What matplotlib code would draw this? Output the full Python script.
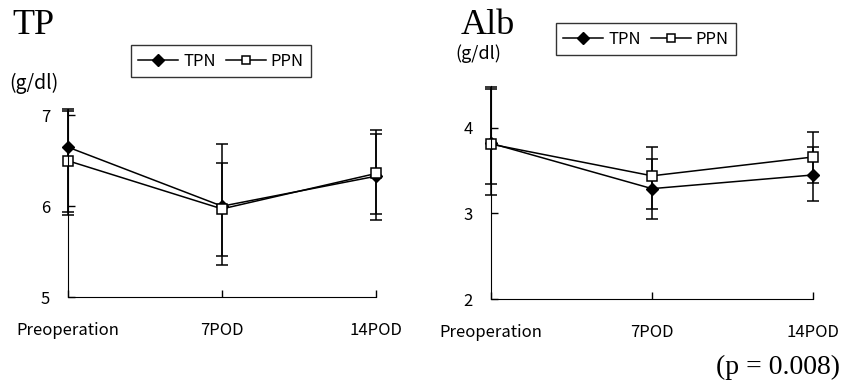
import numpy as np
import matplotlib.pyplot as plt
import matplotlib as mpl
from matplotlib.lines import Line2D

mpl.rcParams.update({'font.family': ['Noto Sans CJK JP', 'DejaVu Sans']})

## data
days = ['Preoperation', '7POD', '14POD']

# TP (g/dl)
tp_tpn = [6.65, 6.00, 6.33]
tp_tpn_hi = [7.07, 6.68, 6.79]
tp_tpn_lo = [5.94, 5.35, 5.85]
tp_ppn = [6.50, 5.97, 6.36]
tp_ppn_hi = [7.05, 6.48, 6.84]
tp_ppn_lo = [5.90, 5.45, 5.91]

# Alb (g/dl)
alb_tpn = [3.82, 3.29, 3.45]
alb_tpn_hi = [4.48, 3.64, 3.78]
alb_tpn_lo = [3.21, 2.94, 3.14]
alb_ppn = [3.81, 3.44, 3.66]
alb_ppn_hi = [4.46, 3.78, 3.95]
alb_ppn_lo = [3.35, 3.05, 3.36]

W, H = 843, 385
fig = plt.figure(figsize=(W/100, H/100), dpi=100)

tpn_style = dict(marker='D', ms=6, mfc='black', mec='black')
ppn_style = dict(marker='s', ms=7, mfc='white', mec='black', mew=1.1)


def panel(rect, tpn, tpn_hi, tpn_lo, ppn, ppn_hi, ppn_lo, ylim, yticks):
    ax = fig.add_axes(rect)
    x = np.arange(len(days))
    for m, hi, lo, kw in [(tpn, tpn_hi, tpn_lo, tpn_style), (ppn, ppn_hi, ppn_lo, ppn_style)]:
        m = np.array(m)
        err = [m - np.array(lo), np.array(hi) - m]
        ax.errorbar(x, m, yerr=err, color='black', lw=1.1, elinewidth=1.1,
                    capsize=4, capthick=1.1, clip_on=False, **kw)
    ax.set_xlim(0, 2)
    ax.set_ylim(*ylim)
    ax.set_yticks(yticks)
    ax.set_xticks(x)
    ax.set_xticklabels(days)
    ax.spines['top'].set_visible(False)
    ax.spines['right'].set_visible(False)
    ax.tick_params(direction='in', length=5, width=1, labelsize=12)
    ax.tick_params(axis='y', pad=13)
    ax.tick_params(axis='x', pad=18)
    return ax


ax1 = panel([68/W, 1 - 297/H, (376 - 68)/W, (297 - 109)/H],
            tp_tpn, tp_tpn_hi, tp_tpn_lo, tp_ppn, tp_ppn_hi, tp_ppn_lo,
            (5, 7.07), [5, 6, 7])
ax2 = panel([491/W, 1 - 299/H, (813 - 491)/W, (299 - 86)/H],
            alb_tpn, alb_tpn_hi, alb_tpn_lo, alb_ppn, alb_ppn_hi, alb_ppn_lo,
            (2, 4.49), [2, 3, 4])

# legends
handles = [Line2D([], [], color='black', lw=1.1, **tpn_style),
           Line2D([], [], color='black', lw=1.1, **dict(ppn_style, ms=6))]
for ax, anchor in [(ax1, (221/W, 1 - 61/H)), (ax2, (646/W, 1 - 39/H))]:
    leg = ax.legend(handles, ['TPN', 'PPN'], ncol=2, loc='center', bbox_to_anchor=anchor,
                    bbox_transform=fig.transFigure,
                    frameon=True, fancybox=False, edgecolor='black', fontsize=12,
                    handlelength=2.4, columnspacing=0.6, handletextpad=0.3, borderpad=0.45)
    leg.get_frame().set_linewidth(1.0)

# titles and units
fig.text(12/W, 1 - 25/H, 'TP', family='Liberation Serif', fontsize=26, va='center')
fig.text(461/W, 1 - 26/H, 'Alb', family='Liberation Serif', fontsize=26, va='center')
fig.text(9/W, 1 - 83/H, '(g/dl)', fontsize=14, va='center')
fig.text(455/W, 1 - 54/H, '(g/dl)', fontsize=13, va='center')
fig.text(840/W, 1 - 367/H, '(p = 0.008)', family='Liberation Serif', fontsize=20,
         ha='right', va='center')

fig.savefig('out.png', dpi=100)
